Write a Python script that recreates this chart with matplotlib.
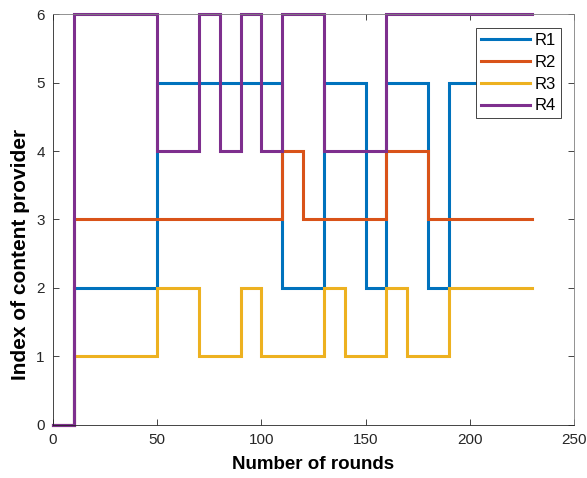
import matplotlib
matplotlib.use("Agg")
import matplotlib.pyplot as plt

rounds = list(range(0, 240, 10))
r1 = [0, 2, 2, 2, 2, 5, 5, 5, 5, 5, 5, 2, 2, 5, 5, 2, 5, 5, 2, 5, 5, 5, 5, 5]
r2 = [0, 3, 3, 3, 3, 3, 3, 3, 3, 3, 3, 4, 3, 3, 3, 3, 4, 4, 3, 3, 3, 3, 3, 3]
r3 = [0, 1, 1, 1, 1, 2, 2, 1, 1, 2, 1, 1, 1, 2, 1, 1, 2, 1, 1, 2, 2, 2, 2, 2]
r4 = [0, 6, 6, 6, 6, 4, 4, 6, 4, 6, 4, 6, 6, 4, 4, 4, 6, 6, 6, 6, 6, 6, 6, 6]
series = {"R1": r1, "R2": r2, "R3": r3, "R4": r4}
colors = ["#0072BD", "#D95319", "#EDB120", "#7E2F8E"]

xticks = [0, 50, 100, 150, 200, 250]
yticks = [0, 1, 2, 3, 4, 5, 6]

plt.rcParams['font.family'] = ['Liberation Sans', 'DejaVu Sans']

fig = plt.figure(figsize=(5.87, 4.78), dpi=100)
ax = fig.add_axes([0.0903, 0.1109, 0.8877, 0.8598])

for (name, vals), c in zip(series.items(), colors):
    ax.step(rounds, vals, where='post', color=c, lw=2.2, label=name,
            clip_on=False, solid_joinstyle='miter')

ax.set_xlim(0, 250)
ax.set_ylim(0, 6)
ax.set_xticks(xticks)
ax.set_yticks(yticks)
ax.tick_params(direction='in', length=4.5, width=0.6, colors='#262626',
               labelsize=11, top=True, right=True, pad=6)
for s in ax.spines.values():
    s.set_color('#262626')
    s.set_linewidth(0.6)
for s in ['top', 'right']:
    ax.spines[s].set_color('#808080')

ax.set_xlabel("Number of rounds", fontsize=13.5, fontweight='bold', labelpad=6)
ax.set_ylabel("Index of content provider", fontsize=15, fontweight='bold')
ax.yaxis.set_label_coords(-0.044, 0.414)

leg = ax.legend(loc='upper right', bbox_to_anchor=(0.975, 0.966), fontsize=12,
                handlelength=2.9, handletextpad=0.3, borderpad=0.3,
                labelspacing=0.41, borderaxespad=0, fancybox=False, framealpha=1)
leg.get_frame().set_edgecolor('#262626')
leg.get_frame().set_linewidth(0.6)

fig.savefig("out.png", dpi=100)
